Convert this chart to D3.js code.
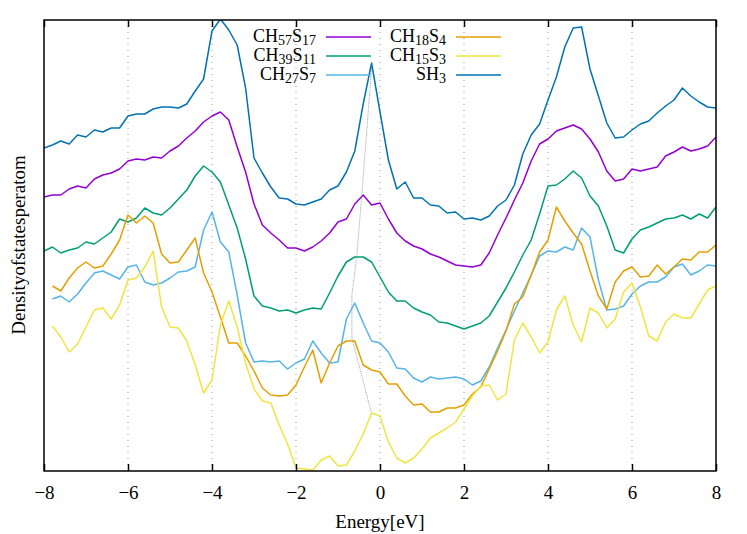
<!DOCTYPE html>
<html>
<head>
<meta charset="utf-8">
<script src="https://cdn.jsdelivr.net/npm/d3@7/dist/d3.min.js"></script>
<style>
  body { margin: 0; background: #fff; }
  text { font-family: "Liberation Serif", "DejaVu Serif", serif; }
</style>
</head>
<body>
<div id="chart"></div>
<script>
var width = 747,
    height = 534;
var margin = {left: 44, right: 31, top: 20, bottom: 63};

// energy grid, -8 .. 8 eV in 0.2 steps
var energy = d3.range(81).map(function(i) { return +(-8 + i * 0.2).toFixed(1); });
var xTicks = [-8, -6, -4, -2, 0, 2, 4, 6, 8];
var gridTicks = [-6, -4, -2, 0, 2, 4, 6];

// density of states (arbitrary units, offset curves)
var dosSH3 = [
  32.3, 32.6, 33.0, 32.7, 33.6, 33.4, 34.1, 33.9, 34.3, 34.3,
  35.5, 35.7, 35.7, 36.2, 36.4, 36.4, 36.3, 36.7, 38.0, 39.2,
  44.0, 45.2, 44.1, 42.6, 38.3, 31.3, 29.8, 28.4, 27.3, 27.2,
  26.7, 26.6, 26.9, 27.2, 28.1, 28.5, 29.9, 32.0, 36.7, 40.8,
  35.9, 31.1, 28.2, 28.9, 27.3, 27.3, 26.6, 26.5, 25.8, 25.9,
  25.2, 25.3, 25.1, 25.5, 26.5, 27.1, 28.6, 31.7, 33.6, 34.7,
  37.1, 39.4, 42.4, 44.3, 44.4, 40.2, 37.5, 34.8, 33.3, 33.4,
  34.1, 34.7, 35.0, 35.8, 36.5, 37.1, 38.3, 37.5, 36.9, 36.4, 36.3];
var dosCH57S17 = [
  27.4, 27.6, 27.6, 28.2, 28.5, 28.3, 29.2, 29.6, 29.8, 30.2,
  31.0, 31.2, 31.1, 31.4, 31.3, 32.0, 32.5, 33.3, 34.0, 34.9,
  35.5, 35.9, 35.1, 32.4, 29.9, 26.7, 24.6, 23.8, 23.1, 22.3,
  22.3, 22.0, 22.4, 23.0, 23.8, 24.9, 25.2, 26.7, 27.6, 26.6,
  26.8, 25.2, 23.8, 23.0, 22.5, 22.2, 21.7, 21.4, 21.0, 20.6,
  20.5, 20.4, 20.6, 21.8, 23.6, 25.3, 27.1, 28.8, 31.0, 32.7,
  33.2, 34.0, 34.3, 34.6, 34.2, 33.2, 31.9, 30.0, 29.0, 29.2,
  30.2, 30.0, 30.2, 30.4, 31.5, 31.9, 32.4, 32.0, 32.2, 32.5, 33.4];
var dosCH39S11 = [
  22.0, 22.4, 21.8, 22.1, 22.3, 22.9, 22.7, 23.3, 23.9, 25.2,
  24.9, 25.3, 26.3, 25.8, 25.6, 26.3, 27.2, 28.1, 29.5, 30.5,
  29.9, 28.9, 26.6, 24.3, 21.2, 17.5, 16.5, 16.3, 16.0, 16.1,
  15.8, 16.1, 16.3, 16.2, 17.8, 19.5, 20.9, 21.4, 21.4, 20.9,
  19.4, 17.9, 17.0, 17.0, 16.3, 15.9, 15.6, 14.9, 14.8, 14.5,
  14.2, 14.5, 14.8, 15.5, 16.9, 18.3, 19.9, 21.6, 23.1, 25.7,
  28.5, 28.6, 29.2, 30.0, 29.3, 27.5, 26.5, 24.5, 22.1, 21.8,
  23.2, 24.1, 24.4, 24.8, 25.2, 25.3, 25.6, 25.2, 25.7, 25.3, 26.4];
var dosCH27S7 = [
  null, 17.2, 17.5, 16.9, 17.7, 18.8, 19.8, 20.0, 19.6, 19.2,
  20.4, 20.6, 18.9, 18.6, 18.8, 19.3, 19.9, 20.0, 20.4, 24.1,
  25.9, 22.9, 21.9, 17.6, 12.8, 10.9, 11.0, 10.9, 11.0, 10.2,
  10.8, 11.2, 13.0, 11.8, 10.8, 10.9, 15.2, 16.8, 14.8, 13.0,
  12.8, 11.9, 10.3, 10.2, 9.3, 8.9, 9.4, 9.2, 9.3, 9.4,
  9.2, 8.6, 9.0, 10.4, 12.3, 14.1, 16.0, 17.8, 19.6, 21.5,
  22.0, 21.9, 22.4, 22.1, 24.3, 23.4, 19.1, 16.1, 16.2, 16.5,
  17.7, 18.5, 18.9, 18.9, 19.4, 20.4, 20.7, 19.6, 20.0, 20.6, 20.5];
var dosCH18S4 = [
  null, 18.5, 18.0, 19.3, 20.3, 20.9, 20.3, 20.5, 21.7, 23.1,
  25.6, 24.8, 25.5, 24.8, 21.7, 20.8, 20.9, 22.1, 23.3, 19.8,
  17.9, 15.4, 12.8, 12.8, 11.5, 10.0, 8.3, 7.6, 7.5, 7.6,
  8.6, 10.4, 12.1, 8.8, 10.8, 12.5, 13.0, 13.0, 10.6, 10.1,
  9.9, 8.7, 8.7, 7.5, 6.6, 6.7, 5.9, 5.9, 6.3, 6.3,
  6.6, 7.7, 8.4, 10.2, 12.0, 14.0, 16.7, 17.4, 19.6, 21.9,
  23.1, 26.4, 25.0, 23.8, 22.7, 20.0, 17.5, 16.2, 18.9, 20.0,
  20.4, 19.4, 19.5, 20.6, 19.7, 20.4, 21.2, 21.1, 21.9, 21.9, 22.6];
var dosCH15S3 = [
  null, 14.5, 13.4, 11.9, 12.7, 14.4, 16.1, 16.3, 15.2, 16.6,
  19.1, 19.3, 20.4, 22.0, 16.4, 14.4, 14.3, 13.0, 10.6, 7.8,
  9.1, 14.6, 17.0, 14.4, 10.8, 8.2, 7.0, 6.8, 4.6, 2.7,
  0.3, 0.2, 0.1, 1.1, 1.5, 0.5, 0.6, 2.0, 3.7, 5.8,
  5.5, 2.9, 1.3, 0.8, 1.3, 2.2, 3.3, 3.8, 4.3, 4.9,
  6.2, 7.5, 8.5, 8.6, 7.1, 7.7, 13.1, 14.8, 13.4, 11.8,
  12.9, 16.1, 17.5, 14.6, 12.9, 16.3, 15.8, 14.3, 15.2, 17.9,
  18.8, 16.4, 13.5, 13.0, 14.9, 15.7, 15.3, 15.3, 16.7, 18.1, 18.5];

// peak positions near the Fermi level, joined by a thin guide line
var peakEnergy = [-0.19, -0.43, -0.55, -0.67, -0.67, -0.21];
var peakValue = [40.8, 27.8, 21.6, 17.6, 13.3, 5.9];

var series = [
  {name: "CH", sub1: "57", el: "S", sub2: "17", values: dosCH57S17, color: "#9400d3"},
  {name: "CH", sub1: "39", el: "S", sub2: "11", values: dosCH39S11, color: "#009e73"},
  {name: "CH", sub1: "27", el: "S", sub2: "7", values: dosCH27S7, color: "#56b4e9"},
  {name: "CH", sub1: "18", el: "S", sub2: "4", values: dosCH18S4, color: "#e69f00"},
  {name: "CH", sub1: "15", el: "S", sub2: "3", values: dosCH15S3, color: "#f0e442"},
  {name: "SH", sub1: "3", el: "", sub2: "", values: dosSH3, color: "#0072b2"}
];

var svg = d3.select("#chart")
    .append("svg")
    .attr("width", width)
    .attr("height", height);

var x = d3.scaleLinear().domain([-8, 8]).range([margin.left, width - margin.right]);
var y = d3.scaleLinear().domain([0, 45.1]).range([height - margin.bottom, margin.top]);

svg.append("clipPath").attr("id", "clip")
    .append("rect")
    .attr("x", margin.left)
    .attr("y", margin.top)
    .attr("width", width - margin.left - margin.right)
    .attr("height", height - margin.top - margin.bottom);

// dotted vertical grid
svg.append("g").selectAll("line")
    .data(gridTicks)
    .enter().append("line")
    .attr("x1", function(d) { return x(d); })
    .attr("x2", function(d) { return x(d); })
    .attr("y1", margin.top)
    .attr("y2", height - margin.bottom)
    .attr("stroke", "#999")
    .attr("stroke-width", 1)
    .attr("stroke-dasharray", "1,5");

var line = d3.line()
    .defined(function(d) { return d[1] != null; })
    .x(function(d) { return x(d[0]); })
    .y(function(d) { return y(d[1]); });

var plot = svg.append("g").attr("clip-path", "url(#clip)");

series.forEach(function(s) {
    plot.append("path")
        .datum(energy.map(function(e, i) { return [e, s.values[i]]; }))
        .attr("d", line)
        .attr("fill", "none")
        .attr("stroke", s.color)
        .attr("stroke-width", 1.5)
        .attr("stroke-linejoin", "round");
});

plot.append("path")
    .datum(peakEnergy.map(function(e, i) { return [e, peakValue[i]]; }))
    .attr("d", line)
    .attr("fill", "none")
    .attr("stroke", "#888")
    .attr("stroke-width", 0.8)
    .attr("stroke-dasharray", "1,1");

// frame
svg.append("rect")
    .attr("x", margin.left)
    .attr("y", margin.top)
    .attr("width", width - margin.left - margin.right)
    .attr("height", height - margin.top - margin.bottom)
    .attr("fill", "none")
    .attr("stroke", "#000")
    .attr("stroke-width", 1.5);

// inward ticks, bottom and top
var xAxis = svg.append("g")
    .attr("transform", "translate(0," + (height - margin.bottom) + ")")
    .call(d3.axisBottom(x).tickValues(xTicks).tickSizeInner(-7).tickSizeOuter(0).tickPadding(15));
xAxis.select(".domain").remove();
xAxis.selectAll("line").attr("stroke-width", 1.5);
xAxis.selectAll("text")
    .style("font-family", "Liberation Serif, serif")
    .style("font-size", "19px")
    .attr("fill", "#000");

var xTop = svg.append("g")
    .attr("transform", "translate(0," + margin.top + ")")
    .call(d3.axisTop(x).tickValues(xTicks).tickSizeInner(-7).tickSizeOuter(0).tickFormat(""));
xTop.select(".domain").remove();
xTop.selectAll("line").attr("stroke-width", 1.5);

svg.append("text")
    .attr("x", x(0))
    .attr("y", 528)
    .attr("text-anchor", "middle")
    .style("font-size", "19px")
    .text("Energy[eV]");

svg.append("text")
    .attr("transform", "translate(25," + 245 + ") rotate(-90)")
    .attr("text-anchor", "middle")
    .style("font-size", "19px")
    .text("Densityofstatesperatom");

// legend, two columns of three
var legend = svg.append("g");
series.forEach(function(s, i) {
    var col = Math.floor(i / 3), row = i % 3;
    var textRight = col == 0 ? 316 : 446;
    var ly = 37 + row * 19;
    var t = legend.append("text")
        .attr("x", textRight)
        .attr("y", ly + 5)
        .attr("text-anchor", "end")
        .style("font-size", "18px");
    t.append("tspan").text(s.name);
    t.append("tspan").text(s.sub1).style("font-size", "14px").attr("dy", 3);
    if (s.el) {
        t.append("tspan").text(s.el).attr("dy", -3);
        t.append("tspan").text(s.sub2).style("font-size", "14px").attr("dy", 3);
    }
    legend.append("line")
        .attr("x1", textRight + 10)
        .attr("x2", textRight + 55)
        .attr("y1", ly)
        .attr("y2", ly)
        .attr("stroke", s.color)
        .attr("stroke-width", 1.5);
});
</script>
</body>
</html>
